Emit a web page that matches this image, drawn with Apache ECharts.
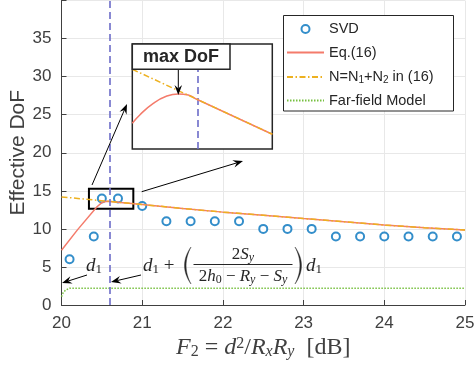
<!DOCTYPE html>
<html>
<head>
<meta charset="utf-8">
<script src="https://cdn.jsdelivr.net/npm/echarts@6/dist/echarts.min.js"></script>
<style>
html, body { margin: 0; padding: 0; background: #fff; }
#chart { width: 476px; height: 368px; }
</style>
</head>
<body>
<div id="chart"></div>
<script>
var chart = echarts.init(document.getElementById('chart'));

/*----------- data -----------*/
// SVD
var svdX = [20.1, 20.4, 20.5, 20.7, 21.0, 21.3, 21.6, 21.9, 22.2, 22.5, 22.8, 23.1, 23.4, 23.7, 24.0, 24.3, 24.6, 24.9];
var svdY = [6, 9, 14, 14, 13, 11, 11, 11, 11, 10, 10, 10, 9, 9, 9, 9, 9, 9];
// Eq.(16)
var eqX = [20, 20.2, 20.44, 20.5, 20.56, 20.6, 21, 21.5, 22, 22.5, 23, 23.5, 24, 24.5, 25];
var eqY = [7.2, 9.9, 12.9, 13.45, 13.62, 13.6, 13.2, 12.68, 12.2, 11.8, 11.35, 10.95, 10.5, 10.15, 9.85];
// N = N1 + N2
var nX = [20, 20.5, 21, 21.5, 22, 22.5, 23, 23.5, 24, 24.5, 25];
var nY = [14.2, 13.7, 13.2, 12.68, 12.2, 11.8, 11.35, 10.95, 10.5, 10.15, 9.85];
// far-field model
var ffX = [20, 20.02, 20.05, 20.1, 25];
var ffY = [1.1, 1.6, 1.95, 2.2, 2.2];
// zoomed view (inset)
var zEqX = [20.46, 20.476, 20.505, 20.534, 20.559, 20.58, 20.598, 20.76];
var zEqY = [13.51, 13.549, 13.603, 13.637, 13.647, 13.642, 13.622, 13.459];
var zNX = [20.46, 20.76];
var zNY = [13.762, 13.459];
var d1 = 20.6;
var boxX = [20.34, 20.89];
var boxY = [12.63, 15.26];

var names = ['SVD', 'Eq.(16)', 'N=N1+N2 in (16)', 'Far-field Model'];
var colors = ['#0072bd', '#f47b6b', '#edb120', '#77c040', '#6c6cc8'];

function zip(a, b) {
    return a.map(function (v, i) { return [v, b[i]]; });
}

/*----------- annotations -----------*/
function arrow(x1, y1, x2, y2) {
    var a = Math.atan2(y2 - y1, x2 - x1);
    var c = Math.cos(a), s = Math.sin(a);
    var L = 10, W = 3.8;
    var bx = x2 - L * c, by = y2 - L * s;
    var nx = x2 - 0.65 * L * c, ny = y2 - 0.65 * L * s;
    return [{
        type: 'line', z: 100,
        shape: { x1: x1, y1: y1, x2: nx, y2: ny },
        style: { stroke: '#000', lineWidth: 1 }
    }, {
        type: 'polygon', z: 100,
        shape: { points: [[x2, y2], [bx - W * s, by + W * c], [nx, ny], [bx + W * s, by - W * c]] },
        style: { fill: '#000' }
    }];
}

var serif = 'Liberation Serif';
var ink = '#262626';
var mathRich = {
    i: { fontFamily: serif, fontStyle: 'italic', fontSize: 19, fill: ink, lineHeight: 20 },
    r: { fontFamily: serif, fontSize: 19, fill: ink, lineHeight: 20 },
    s: { fontFamily: serif, fontSize: 13, fill: ink, lineHeight: 13, padding: [10, 0, 0, 0], verticalAlign: 'bottom' },
    fi: { fontFamily: serif, fontStyle: 'italic', fontSize: 17, fill: ink, lineHeight: 18 },
    fr: { fontFamily: serif, fontSize: 17, fill: ink, lineHeight: 18 },
    fs: { fontFamily: serif, fontStyle: 'italic', fontSize: 12, fill: ink, lineHeight: 12, padding: [9, 0, 0, 0], verticalAlign: 'bottom' },
    fsr: { fontFamily: serif, fontSize: 12, fill: ink, lineHeight: 12, padding: [9, 0, 0, 0], verticalAlign: 'bottom' }
};

function mtext(x, y, text, align) {
    return {
        type: 'text', z: 100, x: x, y: y,
        style: { text: text, rich: mathRich, align: align || 'left', verticalAlign: 'middle' }
    };
}

// tall parenthesis as a thin crescent
function paren(xEnd, xMid, y1, y2, dir) {
    var ym = (y1 + y2) / 2, pts = [], i, t, x, y;
    for (i = 0; i <= 16; i++) {
        t = i / 16;
        x = (1 - t) * (1 - t) * xEnd + 2 * t * (1 - t) * xMid + t * t * xEnd;
        y = (1 - t) * (1 - t) * y1 + 2 * t * (1 - t) * ym + t * t * y2;
        pts.push([x, y]);
    }
    for (i = 16; i >= 0; i--) {
        t = i / 16;
        x = (1 - t) * (1 - t) * xEnd + 2 * t * (1 - t) * (xMid + dir * 3.2) + t * t * xEnd;
        y = (1 - t) * (1 - t) * y1 + 2 * t * (1 - t) * ym + t * t * y2;
        pts.push([x, y]);
    }
    return {
        type: 'polygon', z: 100,
        shape: { points: pts },
        style: { fill: ink, stroke: ink, lineWidth: 0.4 }
    };
}

var graphics = [];
// legend frame
graphics.push({
    type: 'rect', z: 3,
    shape: { x: 283.5, y: 15.5, width: 170, height: 95.5 },
    style: { fill: '#fff', stroke: ink, lineWidth: 1 }
});
graphics = graphics.concat(arrow(92, 185, 127, 104));
graphics = graphics.concat(arrow(141.7, 191.7, 243, 161));
graphics = graphics.concat(arrow(87, 275, 62, 283));
graphics = graphics.concat(arrow(141, 275, 111, 282));
graphics = graphics.concat(arrow(178.3, 69.3, 178.3, 95));
graphics.push(mtext(86, 266, '{i|d}{s|1}'));
graphics.push(mtext(143, 266, '{i|d}{s|1}{r| +}'));
graphics.push(paren(191, 178, 247, 284, 1));
graphics.push(mtext(243, 254.5, '{fr|2}{fi|S}{fs|y}', 'center'));
graphics.push({
    type: 'line', z: 100,
    shape: { x1: 193.5, y1: 264.5, x2: 292.5, y2: 264.5 },
    style: { stroke: ink, lineWidth: 1 }
});
graphics.push(mtext(243, 276.5, '{fr|2}{fi|h}{fsr|0}{fr| − }{fi|R}{fs|y}{fr| − }{fi|S}{fs|y}', 'center'));
graphics.push(paren(295, 308, 247, 284, -1));
graphics.push(mtext(306, 266, '{i|d}{s|1}'));
// max DoF label
graphics.push({
    type: 'rect', z: 101,
    shape: { x: 132.3, y: 44, width: 97.7, height: 25.3 },
    style: { fill: '#fff', stroke: ink, lineWidth: 1.5 }
});
graphics.push({
    type: 'text', z: 102, x: 181, y: 57,
    style: { text: 'max DoF', fontFamily: 'Liberation Sans', fontWeight: 'bold', fontSize: 18, fill: ink, align: 'center', verticalAlign: 'middle' }
});

var axisColor = '#404040';
var noSymbol = { opacity: 0 };

var option = {
    animation: false,
    backgroundColor: '#fff',
    grid: [{
        left: 61.5, top: 0.5, width: 403.5, height: 304.5,
        outerBoundsMode: 'none'
    }, {
        left: 132.3, top: 44, width: 140, height: 105,
        outerBoundsMode: 'none',
        show: true, z: 5,
        backgroundColor: '#fff', borderColor: ink, borderWidth: 1.5
    }],
    legend: {
        data: [
            { name: names[0] },
            { name: names[1], itemStyle: noSymbol },
            { name: names[2], itemStyle: noSymbol },
            { name: names[3], itemStyle: noSymbol }
        ],
        orient: 'vertical',
        left: 282, top: 15,
        padding: [6, 1, 4, 4],
        itemWidth: 37, itemHeight: 8, itemGap: 7.5,
        borderWidth: 0,
        backgroundColor: 'transparent',
        textStyle: {
            fontFamily: 'Liberation Sans', fontSize: 14.5, color: ink, lineHeight: 16,
            rich: {
                sub: { fontFamily: 'Liberation Sans', fontSize: 10, color: ink, lineHeight: 10, padding: [7, 0, 0, 0], verticalAlign: 'bottom' }
            }
        },
        formatter: function (name) {
            if (name === names[2]) return 'N=N{sub|1}+N{sub|2} in (16)';
            return name;
        }
    },
    xAxis: [{
        gridIndex: 0, type: 'value', min: 20, max: 25, interval: 1,
        axisLine: { lineStyle: { color: axisColor, width: 1 } },
        axisTick: { inside: true, length: 5, lineStyle: { color: axisColor } },
        axisLabel: { fontFamily: 'Liberation Sans', fontSize: 17, color: axisColor, margin: 10 },
        splitLine: { lineStyle: { color: '#e8e8e8' } },
        name: '{i|F}{s|2}{r| = }{i|d}{p|2}{r|/}{i|R}{si|x}{i|R}{si|y}{r|  [dB]}',
        nameLocation: 'middle', nameGap: 31, nameMoveOverlap: false,
        nameTextStyle: {
            rich: {
                i: { fontFamily: serif, fontStyle: 'italic', fontSize: 24, color: '#404040', lineHeight: 24 },
                r: { fontFamily: serif, fontSize: 24, color: '#404040', lineHeight: 24 },
                s: { fontFamily: serif, fontSize: 16, color: '#404040', lineHeight: 16, padding: [12, 0, 0, 0], verticalAlign: 'bottom' },
                si: { fontFamily: serif, fontStyle: 'italic', fontSize: 16, color: '#404040', lineHeight: 16, padding: [12, 0, 0, 0], verticalAlign: 'bottom' },
                p: { fontFamily: serif, fontSize: 16, color: '#404040', lineHeight: 16, padding: [0, 0, 12, 0], verticalAlign: 'top' }
            }
        }
    }, {
        gridIndex: 1, type: 'value', min: 20.46, max: 20.76, show: false
    }],
    yAxis: [{
        gridIndex: 0, type: 'value', min: 0, max: 40, interval: 5,
        axisLine: { show: true, lineStyle: { color: axisColor, width: 1 } },
        axisTick: { show: true, inside: true, length: 5, lineStyle: { color: axisColor } },
        axisLabel: {
            fontFamily: 'Liberation Sans', fontSize: 17, color: axisColor, margin: 10,
            formatter: function (v) { return v >= 40 ? '' : v; }
        },
        splitLine: { lineStyle: { color: '#e8e8e8' } },
        name: 'Effective DoF', nameLocation: 'middle', nameGap: 33, nameRotate: 90, nameMoveOverlap: false,
        nameTextStyle: { fontFamily: 'Liberation Sans', fontSize: 21, color: '#404040' }
    }, {
        gridIndex: 1, type: 'value', min: 13.39, max: 13.88, show: false
    }],
    graphic: graphics,
    series: [{
        name: names[0], type: 'scatter',
        data: zip(svdX, svdY),
        symbol: 'emptyCircle', symbolSize: 8,
        itemStyle: { color: colors[0], borderColor: colors[0], borderWidth: 2 }
    }, {
        name: names[1], type: 'line',
        data: zip(eqX, eqY),
        symbol: 'none',
        lineStyle: { color: colors[1], width: 1.5 },
        itemStyle: { color: colors[1] },
        markLine: {
            symbol: 'none', silent: true, label: { show: false },
            lineStyle: { color: colors[4], type: [7, 4], width: 1.6 },
            data: [{ xAxis: d1 }]
        },
        markArea: {
            silent: true,
            itemStyle: { color: 'rgba(0,0,0,0)', borderColor: '#000', borderWidth: 2 },
            data: [[{ xAxis: boxX[0], yAxis: boxY[1] }, { xAxis: boxX[1], yAxis: boxY[0] }]]
        }
    }, {
        name: names[2], type: 'line',
        data: zip(nX, nY),
        symbol: 'none',
        lineStyle: { color: colors[2], width: 1.5, type: [6, 2.5, 1.5, 2.5] },
        itemStyle: { color: colors[2] }
    }, {
        name: names[3], type: 'line',
        data: zip(ffX, ffY),
        symbol: 'none',
        lineStyle: { color: colors[3], width: 1.5, type: [1.5, 1.5] },
        itemStyle: { color: colors[3] }
    }, {
        name: 'zoomEq', type: 'line', xAxisIndex: 1, yAxisIndex: 1, z: 6,
        data: zip(zEqX, zEqY), smooth: true,
        symbol: 'none',
        lineStyle: { color: colors[1], width: 1.5 },
        markLine: {
            symbol: 'none', silent: true, label: { show: false },
            lineStyle: { color: colors[4], type: [7, 4], width: 1.6 },
            data: [{ xAxis: d1 }]
        }
    }, {
        name: 'zoomN', type: 'line', xAxisIndex: 1, yAxisIndex: 1, z: 6,
        data: zip(zNX, zNY),
        symbol: 'none',
        lineStyle: { color: colors[2], width: 1.5, type: [6, 2.5, 1.5, 2.5] }
    }]
};

chart.setOption(option);
</script>
</body>
</html>
